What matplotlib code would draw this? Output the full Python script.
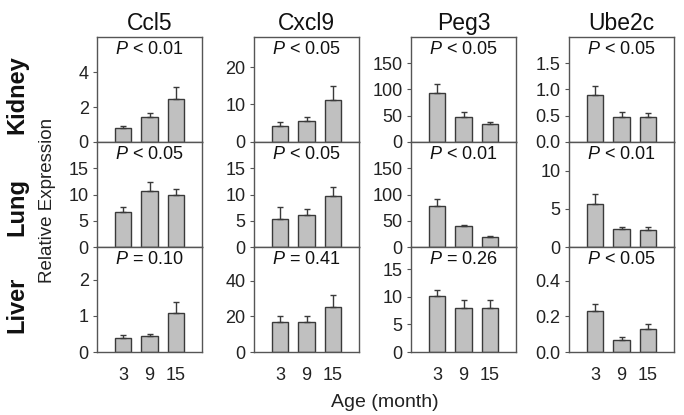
import numpy as np
import matplotlib
matplotlib.use("Agg")
import matplotlib.pyplot as plt

plt.rcParams['font.family'] = ['Liberation Sans', 'DejaVu Sans']
plt.rcParams['mathtext.fontset'] = 'custom'
plt.rcParams['mathtext.it'] = 'Liberation Sans:italic'
plt.rcParams['mathtext.rm'] = 'Liberation Sans'

# Data
genes = ["Ccl5", "Cxcl9", "Peg3", "Ube2c"]
tissues = ["Kidney", "Lung", "Liver"]
ages = ["3", "9", "15"]

kidney_mean = [[0.78, 1.41, 2.45], [4.3, 5.5, 11.3], [94, 48, 34], [0.89, 0.48, 0.475]]
kidney_err = [[0.15, 0.22, 0.72], [0.9, 1.1, 3.5], [17, 9, 4], [0.18, 0.09, 0.075]]
kidney_p = ["< 0.01", "< 0.05", "< 0.05", "< 0.05"]

lung_mean = [[6.6, 10.6, 10.0], [5.3, 6.1, 9.7], [79, 40, 19], [5.6, 2.33, 2.3]]
lung_err = [[0.95, 1.7, 1.05], [2.4, 1.1, 1.7], [13, 2.5, 2.5], [1.4, 0.35, 0.3]]
lung_p = ["< 0.05", "< 0.05", "< 0.01", "< 0.01"]

liver_mean = [[0.4, 0.45, 1.08], [16.8, 16.8, 25.3], [10.1, 8.0, 7.95], [0.23, 0.07, 0.13]]
liver_err = [[0.06, 0.06, 0.3], [3.4, 3.2, 6.5], [1.2, 1.4, 1.5], [0.04, 0.016, 0.03]]
liver_p = ["= 0.10", "= 0.41", "= 0.26", "< 0.05"]

yticks = [
    [[0, 2, 4], [0, 10, 20], [0, 50, 100, 150], [0.0, 0.5, 1.0, 1.5]],
    [[0, 5, 10, 15], [0, 5, 10, 15], [0, 50, 100, 150], [0, 5, 10]],
    [[0, 1, 2], [0, 20, 40], [0, 5, 10, 15], [0.0, 0.2, 0.4]],
]
ytop = [[6, 28, 200, 2.0], [20, 20, 200, 13.8], [2.9, 59, 19, 0.59]]
decimals = [[0, 0, 0, 1], [0, 0, 0, 0], [0, 0, 0, 1]]

means = [kidney_mean, lung_mean, liver_mean]
errs = [kidney_err, lung_err, liver_err]
pvals = [kidney_p, lung_p, liver_p]

W, H = 684, 415
fig = plt.figure(figsize=(W / 100, H / 100), dpi=100)

col_left = [97, 254, 411, 569]
row_top = [37, 142, 247]
aw, ah = 105, 105
spine_col = "#555555"
x = np.arange(1, 4)

for r in range(3):
    for c in range(4):
        ax = fig.add_axes([col_left[c] / W, 1 - (row_top[r] + ah) / H, aw / W, ah / H])
        m = means[r][c]
        e = errs[r][c]
        ax.bar(x, m, width=0.62, color="#c0c0c0", edgecolor="#3a3a3a", linewidth=1.0, zorder=2)
        ax.errorbar(x, m, yerr=[np.zeros(3), e], fmt="none", ecolor="#3a3a3a",
                    elinewidth=1.0, capsize=2, capthick=1.0, zorder=3)
        ax.set_xlim(0.02, 3.98)
        ax.set_ylim(0, ytop[r][c])
        ax.set_yticks(yticks[r][c])
        if decimals[r][c]:
            ax.set_yticklabels([f"{v:.1f}" for v in yticks[r][c]])
        else:
            ax.set_yticklabels([f"{v:g}" for v in yticks[r][c]])
        ax.set_xticks(x)
        if r == 2:
            ax.set_xticklabels(ages)
        else:
            ax.set_xticklabels([])
        ax.tick_params(axis="x", length=0, pad=11, labelsize=13, colors="#222222")
        ax.tick_params(axis="y", direction="out", length=3, width=0.8, pad=3,
                       labelsize=13, color=spine_col, labelcolor="#222222")
        for s in ax.spines.values():
            s.set_color(spine_col)
            s.set_linewidth(1.0)
        ax.text(0.5, 0.885, r"$\mathit{P}$ " + pvals[r][c], transform=ax.transAxes,
                ha="center", va="center", fontsize=13, color="#111111")
        if r == 0:
            ax.set_title(genes[c], fontsize=16.5, pad=5, color="#111111")

row_centers = [95, 207, 305]
for t, yc in zip(tissues, row_centers):
    fig.text(17 / W, 1 - yc / H, t, rotation=90, ha="center", va="center",
             fontsize=17, fontweight="bold", color="#111111")

fig.text(48 / W, 1 - 200 / H, "Relative Expression", rotation=90, ha="center",
         va="center", fontsize=13.5, color="#222222")
fig.text(385 / W, 1 - 402 / H, "Age (month)", ha="center", va="center",
         fontsize=14, color="#222222")

fig.savefig("out.png", dpi=100)
